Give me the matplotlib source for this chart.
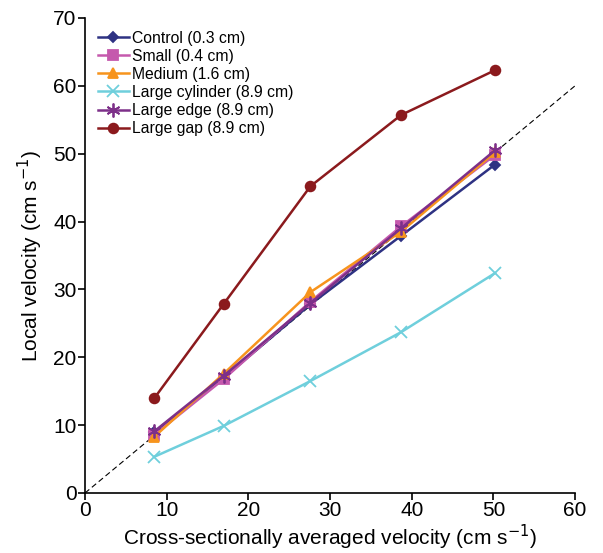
import matplotlib
matplotlib.use("Agg")
import matplotlib.pyplot as plt

plt.rcParams['font.family'] = ['Liberation Sans', 'DejaVu Sans']

x_vals = [8.5, 17.0, 27.6, 38.7, 50.2]
control = [9.0, 17.0, 27.8, 37.9, 48.4]
small = [8.6, 16.8, 28.2, 39.3, 49.8]
medium = [8.3, 17.6, 29.6, 38.5, 50.2]
large_cyl = [5.35, 9.9, 16.5, 23.7, 32.4]
large_edge = [9.1, 17.3, 28.0, 39.0, 50.5]
large_gap = [14.0, 27.9, 45.2, 55.7, 62.3]

labels = ["Control (0.3 cm)", "Small (0.4 cm)", "Medium (1.6 cm)",
          "Large cylinder (8.9 cm)", "Large edge (8.9 cm)", "Large gap (8.9 cm)"]
xticks = [0, 10, 20, 30, 40, 50, 60]
yticks = [0, 10, 20, 30, 40, 50, 60, 70]

fig = plt.figure(figsize=(6.03, 5.53), dpi=100)
ax = fig.add_axes([0.141, 0.1085, 0.8126, 0.859])

ax.plot([0, 60], [0, 60], ls=(0, (5, 3)), color='black', lw=0.8, zorder=1)

styles = [
    (control, '#2e3283', 'D', 5, 1.8),
    (small, '#c559ad', 's', 7, 1.8),
    (medium, '#f7941d', '^', 7, 1.8),
    (large_cyl, '#6fcfdc', 'x', 9, 1.8),
    (large_edge, '#7d3089', (6, 2, 0), 10, 1.8),
    (large_gap, '#8b1a1d', 'o', 7, 1.8),
]
for (vals, c, m, ms, lw), lab in zip(styles, labels):
    ax.plot(x_vals, vals, color=c, marker=m, ms=ms, lw=lw, label=lab,
            mec=c, mew=1.3, zorder=3)

ax.set_xlim(0, 60)
ax.set_ylim(0, 70)
ax.set_xticks(xticks)
ax.set_yticks(yticks)
for s in ['top', 'right']:
    ax.spines[s].set_visible(False)
for s in ['left', 'bottom']:
    ax.spines[s].set_linewidth(1.2)
ax.tick_params(direction='out', length=5, width=1.2, labelsize=15, pad=1)
ax.set_xlabel("Cross-sectionally averaged velocity (cm s$^{-1}$)", fontsize=15, labelpad=2)
ax.set_ylabel("Local velocity (cm s$^{-1}$)", fontsize=15, labelpad=6)

leg = ax.legend(loc='upper left', bbox_to_anchor=(0.0, 1.0), frameon=False,
                fontsize=11.3, handlelength=2.0, handletextpad=0.2,
                labelspacing=0.2, borderaxespad=0.4)

fig.savefig("out.png", dpi=100)
